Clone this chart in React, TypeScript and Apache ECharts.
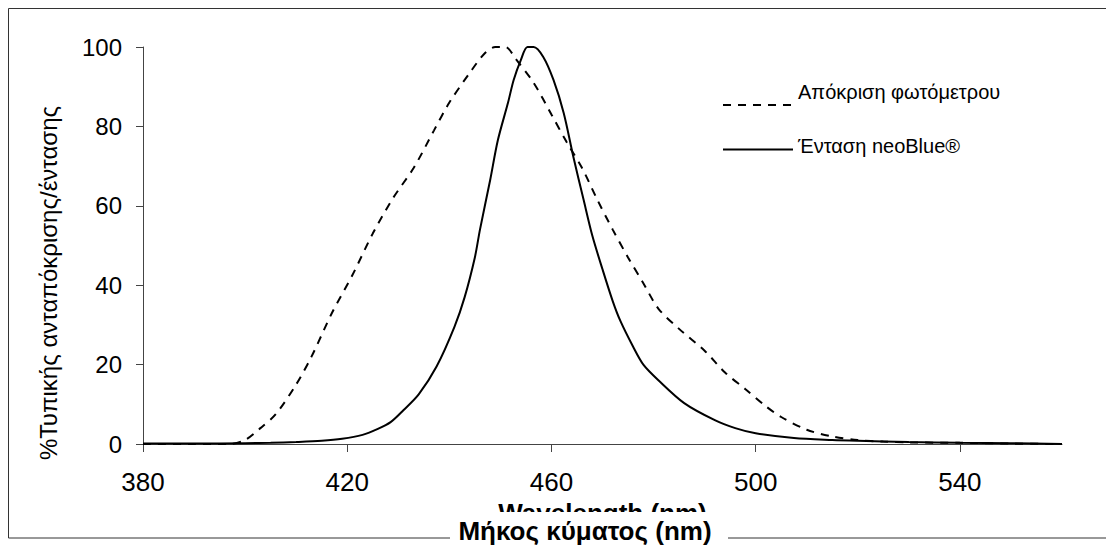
import React, { useEffect, useRef } from "react";
import * as echarts from "echarts";

const FONT = "'Liberation Sans', Arial, sans-serif";

const xTickValues = [380, 420, 460, 500, 540];

const seriesNames = ["Απόκριση φωτόμετρου", "Ένταση neoBlue®"];

// Photometer response (dashed)
const photometerNm = [380, 390, 397, 400, 403, 406, 410, 413, 417, 421, 425, 429, 433, 437, 440, 444, 447, 449, 451, 453, 456.5, 460, 463, 466, 469, 472, 475, 478, 481, 485, 490, 494, 498, 502, 505, 510, 515, 520, 525, 530, 540, 550, 560];
const photometerVal = [0, 0, 0, 1, 4, 7.5, 15, 22, 33, 42.5, 53, 62, 69.5, 79, 86, 93.5, 98.5, 100, 100, 97, 91, 83, 76, 69.5, 61.5, 54, 47, 40.5, 34, 29, 23.5, 18, 13.8, 9.5, 6.8, 3.6, 1.9, 1, 0.6, 0.4, 0.3, 0.1, 0];

// neoBlue intensity (solid)
const neoBlueNm = [380, 390, 400, 405, 410, 415, 419, 423, 426, 428.5, 431, 434, 437.5, 441, 443, 445, 446, 448, 449.5, 451.5, 452.6, 454, 455.3, 456.5, 458.4, 460.4, 462.4, 464.3, 466.3, 468, 470, 472, 473.5, 476, 478, 481, 486, 492, 496, 500, 507.5, 515, 520, 530, 540, 550, 560];
const neoBlueVal = [0.1, 0.1, 0.2, 0.3, 0.5, 0.8, 1.3, 2.3, 3.8, 5.5, 8.5, 12.5, 19.5, 29.5, 37, 47, 54, 66.5, 76.5, 86, 91.7, 96.7, 100, 100, 97.5, 91.7, 83.4, 72.3, 61.5, 52.5, 44, 36, 31, 24.5, 20, 16, 10.3, 6, 4, 2.7, 1.5, 1, 0.8, 0.5, 0.3, 0.2, 0];

const xTitle = "Wavelength (nm)";
const xTitleGreek = "Μήκος κύματος (nm)";
const yTitle = "%Τυπικής ανταπόκρισης/έντασης";

export default function App() {
  const ref = useRef<HTMLDivElement>(null);

  useEffect(() => {
    if (!ref.current) return;
    const chart = echarts.init(ref.current, null, { renderer: "svg" });
    const axisColor = "#444";
    const option: any = {
      animation: false,
      backgroundColor: "#fff",
      textStyle: { fontFamily: FONT },
      grid: { left: 143, right: 44, top: 47, bottom: 102, containLabel: false },
      legend: {
        orient: "vertical",
        left: 717,
        top: 77,
        itemWidth: 70,
        itemHeight: 14,
        itemGap: 25,
        data: seriesNames,
        itemStyle: { opacity: 0 },
        formatter: (name: string) => (name === seriesNames[0] ? `{a|${name}}` : `{b|${name}}`),
        textStyle: {
          fontSize: 20,
          color: "#000",
          fontFamily: FONT,
          rich: {
            a: { fontSize: 20, color: "#000", fontFamily: FONT, padding: [0, 0, 26, 0] },
            b: { fontSize: 20, color: "#000", fontFamily: FONT, padding: [0, 0, 8, 0] },
          },
        },
      },
      xAxis: {
        type: "value",
        min: 380,
        max: 560,
        name: xTitle,
        nameLocation: "middle",
        nameGap: 56,
        nameTextStyle: { fontSize: 26, fontWeight: "bold", color: "#000", fontFamily: FONT },
        axisLine: { show: true, lineStyle: { color: axisColor, width: 1 } },
        axisTick: { show: true, length: 8, customValues: xTickValues, lineStyle: { color: axisColor } },
        axisLabel: { customValues: xTickValues, fontSize: 26, color: "#000", margin: 25, fontFamily: FONT },
        splitLine: { show: false },
      },
      yAxis: {
        type: "value",
        min: 0,
        max: 100,
        interval: 20,
        axisLine: { show: true, lineStyle: { color: axisColor, width: 1 } },
        axisTick: { show: true, length: 7, lineStyle: { color: axisColor } },
        axisLabel: { fontSize: 24, color: "#000", margin: 21, fontFamily: FONT },
        splitLine: { show: false },
      },
      series: [
        {
          name: seriesNames[0],
          type: "line",
          data: photometerNm.map((x, i) => [x, photometerVal[i]]),
          symbol: "none",
          smooth: 0.3,
          lineStyle: { color: "#000", width: 2, type: [8, 7] },
          itemStyle: { color: "#000" },
        },
        {
          name: seriesNames[1],
          type: "line",
          data: neoBlueNm.map((x, i) => [x, neoBlueVal[i]]),
          symbol: "none",
          smooth: 0.3,
          lineStyle: { color: "#000", width: 2, type: "solid" },
          itemStyle: { color: "#000" },
        },
      ],
      graphic: [
        {
          type: "rect",
          z: 0,
          silent: true,
          shape: { x: 8.5, y: 8.5, width: 1110, height: 529.5 },
          style: { fill: "none", stroke: "#333", lineWidth: 1 },
        },
        {
          type: "text",
          z: 10,
          silent: true,
          x: 48,
          y: 283,
          rotation: Math.PI / 2,
          style: {
            text: yTitle,
            fontSize: 24,
            fontFamily: FONT,
            fill: "#000",
            align: "center",
            verticalAlign: "middle",
          },
        },
        {
          type: "group",
          z: 100,
          children: [
            {
              type: "rect",
              z: 100,
              silent: true,
              shape: { x: 450, y: 512, width: 278, height: 40 },
              style: { fill: "#fff", stroke: "none" },
            },
            {
              type: "text",
              z: 101,
              silent: true,
              x: 585,
              y: 531,
              style: {
                text: xTitleGreek,
                fontSize: 26,
                fontWeight: "bold",
                fontFamily: FONT,
                fill: "#000",
                align: "center",
                verticalAlign: "middle",
              },
            },
          ],
        },
      ],
    };
    chart.setOption(option);
    return () => chart.dispose();
  }, []);

  return (
    <div
      ref={ref}
      style={{ position: "fixed", left: 0, top: 0, width: 1106, height: 546, background: "#fff" }}
    />
  );
}
